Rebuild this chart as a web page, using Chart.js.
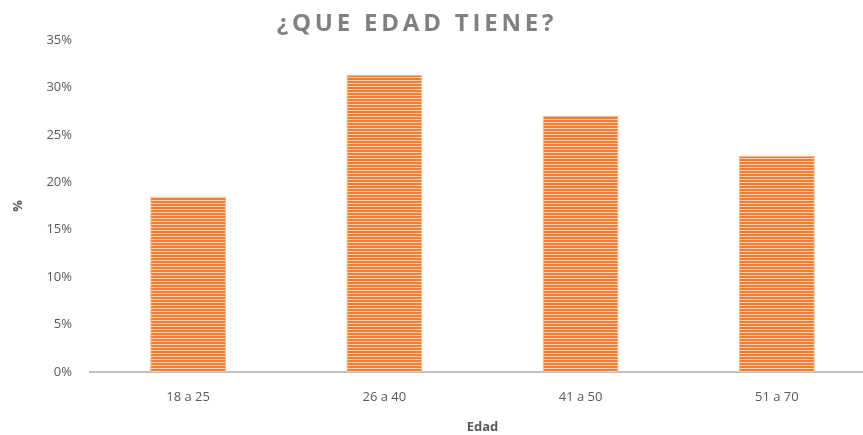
<!DOCTYPE html>
<html>
<head>
<meta charset="utf-8">
<script src="https://cdn.jsdelivr.net/npm/chart.js@4.4.1/dist/chart.umd.min.js"></script>
<style>
  html, body { margin: 0; padding: 0; background: #fff; overflow: hidden; }
  #wrap { position: relative; width: 880px; height: 435px; }
</style>
</head>
<body>
<div id="wrap"><canvas id="c" width="880" height="435"></canvas></div>
<script>
const chartTitle = '¿QUE EDAD TIENE?';
const categories = ['18 a 25', '26 a 40', '41 a 50', '51 a 70'];
const percentValues = [18.5, 31.3, 27.0, 22.8];
const yTitle = '%';
const xTitle = 'Edad';

function stripePattern() {
  const p = document.createElement('canvas');
  p.width = 4; p.height = 3;
  const g = p.getContext('2d');
  g.fillStyle = '#EE7E34';
  g.fillRect(0, 0, 4, 2);
  g.fillStyle = '#F9CDAE';
  g.fillRect(0, 2, 4, 1);
  return g.createPattern(p, 'repeat');
}

const ctx = document.getElementById('c').getContext('2d');
const pattern = stripePattern();

const titlePlugin = {
  id: 'excelTitle',
  afterDraw(chart) {
    const c = chart.ctx;
    c.save();
    c.font = 'bold 24px "Open Sans"';
    c.fillStyle = '#808080';
    c.textAlign = 'center';
    c.textBaseline = 'middle';
    if ('letterSpacing' in c) c.letterSpacing = '3.8px';
    c.fillText(chartTitle, 417, 24);
    c.restore();
  }
};

new Chart(ctx, {
  type: 'bar',
  data: {
    labels: categories,
    datasets: [{
      data: percentValues,
      backgroundColor: pattern,
      borderColor: '#F5B88C',
      borderWidth: { left: 1, right: 1, top: 1, bottom: 0 },
      borderSkipped: false,
      barPercentage: 0.387,
      categoryPercentage: 1.0
    }]
  },
  options: {
    responsive: false,
    animation: false,
    devicePixelRatio: 1,
    layout: { padding: { top: 40, right: 5, bottom: 0, left: 0 } },
    plugins: {
      legend: { display: false },
      tooltip: { enabled: false },
      title: { display: false }
    },
    scales: {
      x: {
        grid: { display: false, drawTicks: false },
        border: { display: true, color: '#BFBFBF', width: 2 },
        ticks: { color: '#595959', font: { family: 'Open Sans', size: 13 }, padding: 17 },
        title: { display: true, text: xTitle, color: '#595959', font: { family: 'Open Sans', size: 13, weight: 'bold' }, padding: { top: 4, bottom: 0 } },
        afterFit(scale) { scale.height = 63; }
      },
      y: {
        min: 0, max: 35,
        grid: { display: false, drawTicks: false },
        border: { display: false },
        ticks: {
          stepSize: 5,
          color: '#595959',
          font: { family: 'Open Sans', size: 13 },
          padding: 18,
          callback: v => v + '%'
        },
        title: { display: true, text: yTitle, color: '#595959', font: { family: 'Open Sans', size: 13, weight: 'bold' }, padding: { top: 10, bottom: 0 } },
        afterFit(scale) { scale.width = 90; }
      }
    }
  },
  plugins: [titlePlugin]
});
</script>
</body>
</html>
